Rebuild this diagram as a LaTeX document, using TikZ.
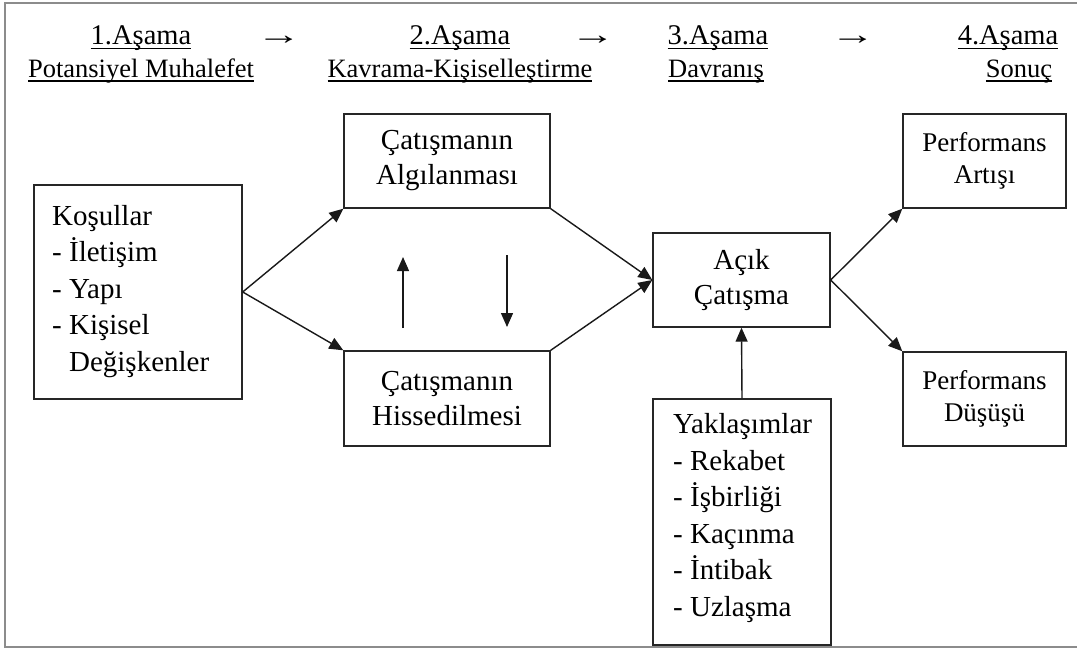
\documentclass[tikz,border=0pt]{standalone}
\usepackage{fontspec}
\setmainfont{Liberation Serif}
\usetikzlibrary{arrows.meta}
\newcommand\myul[1]{\setbox0=\hbox{#1}\leavevmode\rlap{\rule[-4.5pt]{\wd0}{1.6pt}}\box0}
\newcommand\bigarr{\scalebox{1.7}[1.1]{→}}
\begin{document}
\begin{tikzpicture}[x=1pt,y=-1pt,
  box/.style={draw=black!85, line width=1.4pt, inner sep=0pt, align=center,
    font=\fontsize{29pt}{35pt}\selectfont},
  pbox/.style={box, font=\fontsize{27pt}{32pt}\selectfont},
  txt/.style={inner sep=0pt, align=left, font=\fontsize{29pt}{36.5pt}\selectfont},
  hdr/.style={inner sep=0pt, font=\fontsize{26.5pt}{31pt}\selectfont},
  hdrtop/.style={inner sep=0pt, font=\fontsize{28.5pt}{31pt}\selectfont},
  arr/.style={draw=black!90, line width=1.4pt, -{Triangle[length=14pt,width=12pt]}},
  frame/.style={draw=black!45, line width=2pt}]
\useasboundingbox (0,0) rectangle (1077,653);
\fill[white] (0,0) rectangle (1077,653);
\draw[frame] (1077,3) -- (5,3) -- (5,647) -- (1077,647);

% headers
\node[hdrtop,anchor=base] (h1a) at (141,45) {\myul{1.Aşama}};
\node[hdr,anchor=base] (h1b) at (141,77) {\myul{Potansiyel Muhalefet}};
\node[hdr,anchor=base] (r1) at (279,45) {\bigarr};
\node[hdrtop,anchor=base] (h2a) at (460,45) {\myul{2.Aşama}};
\node[hdr,anchor=base] (h2b) at (460,77) {\myul{Kavrama-Kişiselleştirme}};
\node[hdr,anchor=base] (r2) at (593,45) {\bigarr};
\node[hdrtop,anchor=base] (h3a) at (718,45) {\myul{3.Aşama}};
\node[hdr,anchor=base] (h3b) at (716,77) {\myul{Davranış}};
\node[hdr,anchor=base] (r3) at (853,45) {\bigarr};
\node[hdrtop,anchor=base] (h4a) at (1008,45) {\myul{4.Aşama}};
\node[hdr,anchor=base] (h4b) at (1019,77) {\myul{Sonuç}};

% boxes
\node[box, minimum width=208pt, minimum height=214pt] (kos) at (138,292) {};
\node[txt, anchor=base west] (kost) at (52,371) {Koşullar\\- İletişim\\- Yapı\\- Kişisel\\\hphantom{- }Değişkenler};
\node[box, minimum width=206pt, minimum height=94pt] (alg) at (447,161) {Çatışmanın\\Algılanması};
\node[box, minimum width=206pt, minimum height=95pt] (his) at (447,398.5) {Çatışmanın\\Hissedilmesi};
\node[box, minimum width=177pt, minimum height=94pt] (acik) at (741.5,280) {Açık\\Çatışma};
\node[box, minimum width=178pt, minimum height=246pt] (yak) at (742,522) {};
\node[txt, anchor=base west] (yakt) at (673,616) {Yaklaşımlar\\- Rekabet\\- İşbirliği\\- Kaçınma\\- İntibak\\- Uzlaşma};
\node[pbox, minimum width=163pt, minimum height=94pt] (art) at (984.5,161) {Performans\\Artışı};
\node[pbox, minimum width=163pt, minimum height=94pt] (dus) at (984.5,399) {Performans\\Düşüşü};

% connectors
\draw[arr] (kos.east) -- (alg.south west);
\draw[arr] (kos.east) -- (his.north west);
\draw[arr] (alg.south east) -- (acik.west);
\draw[arr] (his.north east) -- (acik.west);
\draw[arr] (acik.east) -- (art.south west);
\draw[arr] (acik.east) -- (dus.north west);
\draw[arr] (yak.north) -- (acik.south);
\coordinate (u1) at (403,328);
\coordinate (u2) at (403,257);
\coordinate (d1) at (507,255);
\coordinate (d2) at (507,327);
\draw[arr] (u1) -- (u2);
\draw[arr] (d1) -- (d2);
\end{tikzpicture}
\end{document}
